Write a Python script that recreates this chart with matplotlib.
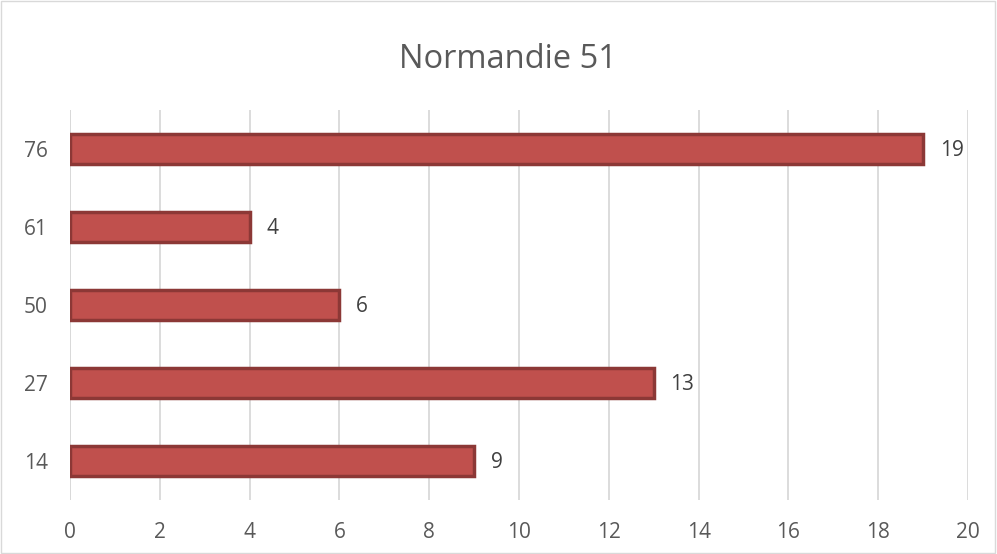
import matplotlib.pyplot as plt

categories = ["14", "27", "50", "61", "76"]
values = [9, 13, 6, 4, 19]
xticks = list(range(0, 21, 2))

plt.rcParams["font.family"] = ["Open Sans", "DejaVu Sans"]

fig = plt.figure(figsize=(9.97, 5.54), dpi=100)
ax = fig.add_axes([70 / 997, 54 / 554, 898 / 997, 390 / 554])

pos = range(len(categories))
bars = ax.barh(pos, values, height=0.39, color="#C0504D", edgecolor="#8C3836",
               linewidth=2.5, zorder=3)
for p, v in zip(pos, values):
    ax.annotate(str(v), (v, p), xytext=(12, -1), textcoords="offset points",
                va="center", ha="left", fontsize=15, color="#404040")

ax.set_xlim(0, 20)
ax.set_ylim(-0.5, len(categories) - 0.5)
ax.set_xticks(xticks)
ax.set_yticks(list(pos))
ax.set_yticklabels(categories)
ax.tick_params(axis="both", length=0, labelsize=15, labelcolor="#595959")
ax.tick_params(axis="x", pad=16)
ax.tick_params(axis="y", pad=16)
ax.grid(axis="x", color="#D9D9D9", linewidth=1.3, zorder=0)
for s in ax.spines.values():
    s.set_visible(False)
ax.axvline(0, color="#D9D9D9", linewidth=1.3, zorder=1)

fig.text(508 / 997, 1 - 68 / 554, "Normandie 51", ha="center", va="baseline",
         fontsize=23.5, color="#595959")

# chart border
fig.patches.append(plt.Rectangle((0.001, 0.001), 0.997, 0.997, transform=fig.transFigure,
                                 fill=False, edgecolor="#D9D9D9", linewidth=1))

fig.savefig("out.png", dpi=100)
